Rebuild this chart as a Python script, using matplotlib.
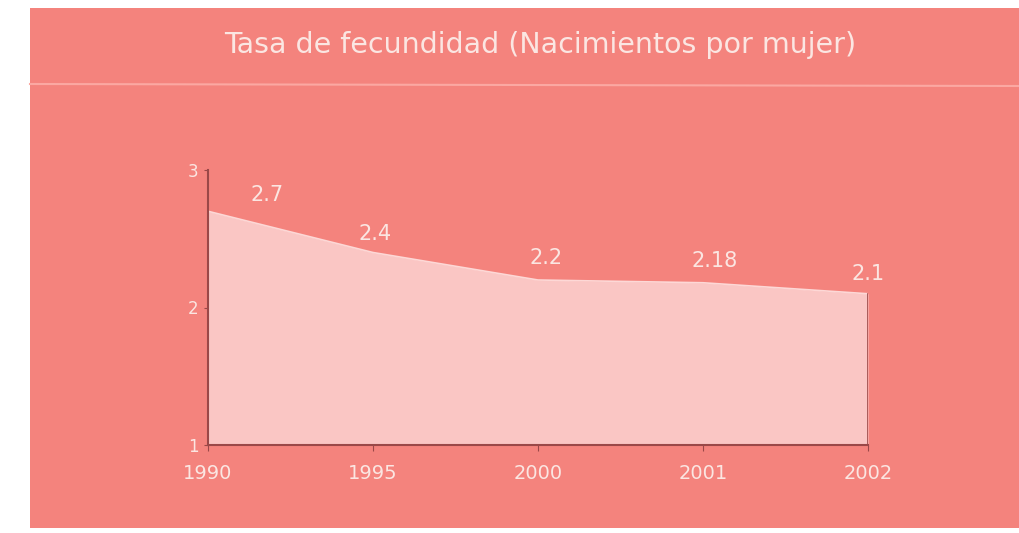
import matplotlib
matplotlib.use("Agg")
import matplotlib.pyplot as plt
from matplotlib.patches import Rectangle
from matplotlib.lines import Line2D

years = ["1990", "1995", "2000", "2001", "2002"]
values = [2.7, 2.4, 2.2, 2.18, 2.1]
value_labels = ["2.7", "2.4", "2.2", "2.18", "2.1"]
y_ticks = [1, 2, 3]
title = "Tasa de fecundidad (Nacimientos por mujer)"

panel = "#f4837d"
fill_c = "#fac6c4"
axis_c = "#9a4848"
text_c = "#fbe6e2"

fig = plt.figure(figsize=(10.2, 5.33), dpi=100)
fig.patch.set_facecolor("white")
fig.patches.append(Rectangle((30/1020, 1-528/533), (1020-30)/1020, (528-8)/533,
                             transform=fig.transFigure, facecolor=panel,
                             edgecolor="none", zorder=-5))
fig.lines.append(Line2D([30/1020, 1.0], [1-84/533, 1-86/533], transform=fig.transFigure,
                        color="#fba8a2", lw=1.5, zorder=-4))
fig.text(540/1020, 1-45/533, title, ha="center", va="center", color=text_c,
         fontsize=20.5, family="DejaVu Sans")

ax = fig.add_axes([208/1020, 1-445/533, (868-208)/1020, (445-170)/533])
ax.set_zorder(5)
ax.set_facecolor("none")
x = list(range(len(years)))
ax.fill_between(x, values, 1, color=fill_c, lw=0)
ax.plot(x, values, color="#fdd8d6", lw=1.2)
ax.plot([x[-1], x[-1]], [1, values[-1]], color=axis_c, lw=1.2)
ax.set_xlim(0, len(years) - 1)
ax.set_ylim(1, 3)
ax.set_yticks(y_ticks)
ax.set_yticklabels([str(t) for t in y_ticks])
ax.set_xticks(x)
ax.set_xticklabels(years)
for s in ["top", "right"]:
    ax.spines[s].set_visible(False)
for s in ["left", "bottom"]:
    ax.spines[s].set_color(axis_c)
    ax.spines[s].set_linewidth(1.5)
ax.tick_params(axis="x", colors=axis_c, labelcolor=text_c, labelsize=14, length=4, pad=10)
ax.tick_params(axis="y", colors=axis_c, labelcolor=text_c, labelsize=12, length=3, pad=4)

offsets = [(59, 16), (2, 18), (8, 22), (12, 22), (0, 20)]
for xi, v, lab, off in zip(x, values, value_labels, offsets):
    ax.annotate(lab, (xi, v), xytext=off, textcoords="offset pixels",
                ha="center", va="center", color=text_c, fontsize=15)

fig.savefig("out.png", dpi=100, facecolor=fig.get_facecolor())
